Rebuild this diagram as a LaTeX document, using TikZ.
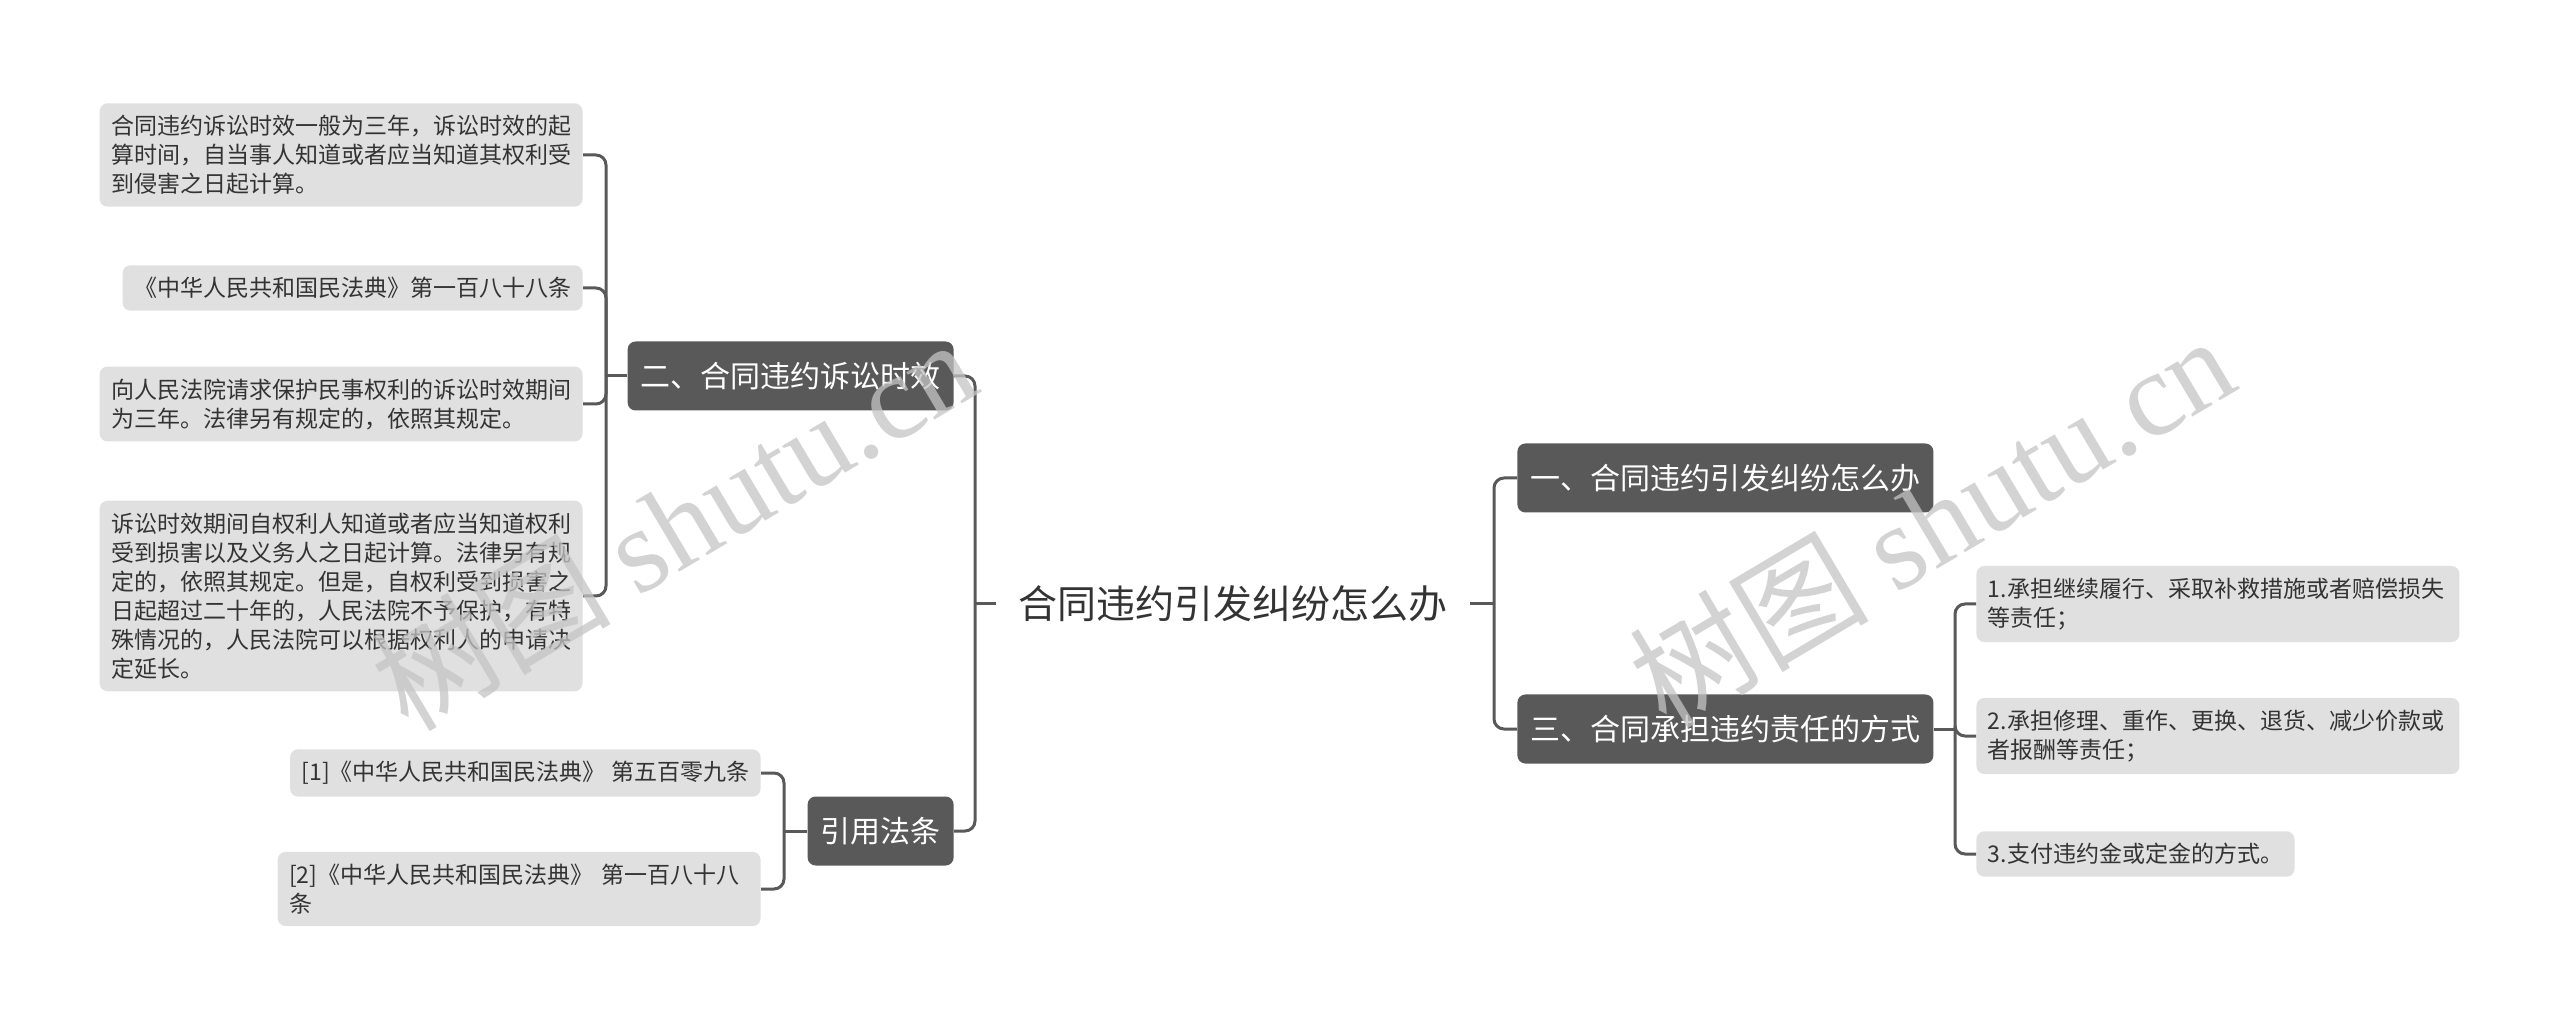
\documentclass[tikz,border=0pt]{standalone}
\usepackage{fontspec}
\setmainfont{Noto Sans CJK SC}
\newfontfamily\wmserif{Liberation Serif}
\definecolor{topicdark}{HTML}{595959}
\definecolor{leafgray}{HTML}{E0E0E0}
\definecolor{linkgray}{HTML}{595959}
\definecolor{inkgray}{HTML}{333333}
\definecolor{markgray}{HTML}{C4C4C4}

\begin{document}
\begin{tikzpicture}[x=0.5pt,y=-0.5pt,
leaf/.style={fill=leafgray,rounded corners=4pt,align=left,text=inkgray,font=\fontsize{11.5}{14.5}\selectfont,inner xsep=5.75pt,inner ysep=6pt},
wleaf/.style={leaf,text width=230pt},
topic/.style={fill=topicdark,rounded corners=4pt,text=white,font=\fontsize{15}{18}\selectfont,inner xsep=6.5pt,minimum height=34.5pt},
link/.style={draw=linkgray,line width=1.5pt},
elbow/.style={link,rounded corners=5pt},
wmark/.style={text=markgray,text opacity=.75,font=\fontsize{60}{60}\selectfont,rotate=30.7}]
\useasboundingbox (0,0) rectangle (2560,1031);
\node[font=\fontsize{19.5}{23}\selectfont,text=inkgray,inner xsep=11.25pt] (root) at (1233,604) {合同违约引发纠纷怎么办};
\coordinate (jl) at (975,604);
\coordinate (jr) at (1494,604);
% left half
\node[topic,anchor=east] (limit) at (954,376) {二、合同违约诉讼时效};
\node[topic,anchor=east] (cite) at (954,831) {引用法条};
\coordinate (jlimit) at (606,376);
\coordinate (jcite) at (784,831);
\node[wleaf,anchor=east] (lstart) at (583,155) {合同违约诉讼时效一般为三年，诉讼时效的起\\算时间，自当事人知道或者应当知道其权利受\\到侵害之日起计算。};
\node[leaf,anchor=east] (lcode) at (583,288) {《中华人民共和国民法典》第一百八十八条};
\node[wleaf,anchor=east] (lterm) at (583,404) {向人民法院请求保护民事权利的诉讼时效期间\\为三年。法律另有规定的，依照其规定。};
\node[wleaf,anchor=east] (lextend) at (583,596) {诉讼时效期间自权利人知道或者应当知道权利\\受到损害以及义务人之日起计算。法律另有规\\定的，依照其规定。但是，自权利受到损害之\\日起超过二十年的，人民法院不予保护，有特\\殊情况的，人民法院可以根据权利人的申请决\\定延长。};
\node[leaf,anchor=east] (cfive) at (761,773) {[1]《中华人民共和国民法典》 第五百零九条};
\node[wleaf,anchor=east] (cone) at (761,889) {[2]《中华人民共和国民法典》 第一百八十八\\条};
% right half
\node[topic,anchor=west] (howto) at (1517,478) {一、合同违约引发纠纷怎么办};
\node[topic,anchor=west] (duty) at (1517,729) {三、合同承担违约责任的方式};
\coordinate (jduty) at (1955,729);
\node[wleaf,anchor=west] (dcont) at (1976,604) {1.承担继续履行、采取补救措施或者赔偿损失\\等责任；};
\node[wleaf,anchor=west] (drepair) at (1976,736) {2.承担修理、重作、更换、退货、减少价款或\\者报酬等责任；};
\node[leaf,anchor=west] (dpay) at (1976,854) {3.支付违约金或定金的方式。};
% connectors
\draw[link] (root.west) -- (jl);
\draw[link] (root.east) -- (jr);
\draw[elbow] (jl) |- (limit.east);
\draw[elbow] (jl) |- (cite.east);
\draw[elbow] (jr) |- (howto.west);
\draw[elbow] (jr) |- (duty.west);
\draw[link] (limit.west) -- (jlimit);
\draw[elbow] (jlimit) |- (lstart.east);
\draw[elbow] (jlimit) |- (lcode.east);
\draw[elbow] (jlimit) |- (lterm.east);
\draw[elbow] (jlimit) |- (lextend.east);
\draw[link] (cite.west) -- (jcite);
\draw[elbow] (jcite) |- (cfive.east);
\draw[elbow] (jcite) |- (cone.east);
\draw[link] (duty.east) -- (jduty);
\draw[elbow] (jduty) |- (dcont.west);
\draw[elbow] (jduty) |- (drepair.west);
\draw[elbow] (jduty) |- (dpay.west);
% watermark
\node[wmark] (wmleft) at (673,523) {树图 {\wmserif shutu.cn}};
\node[wmark] (wmright) at (1931,520) {树图 {\wmserif shutu.cn}};
\end{tikzpicture}
\end{document}
